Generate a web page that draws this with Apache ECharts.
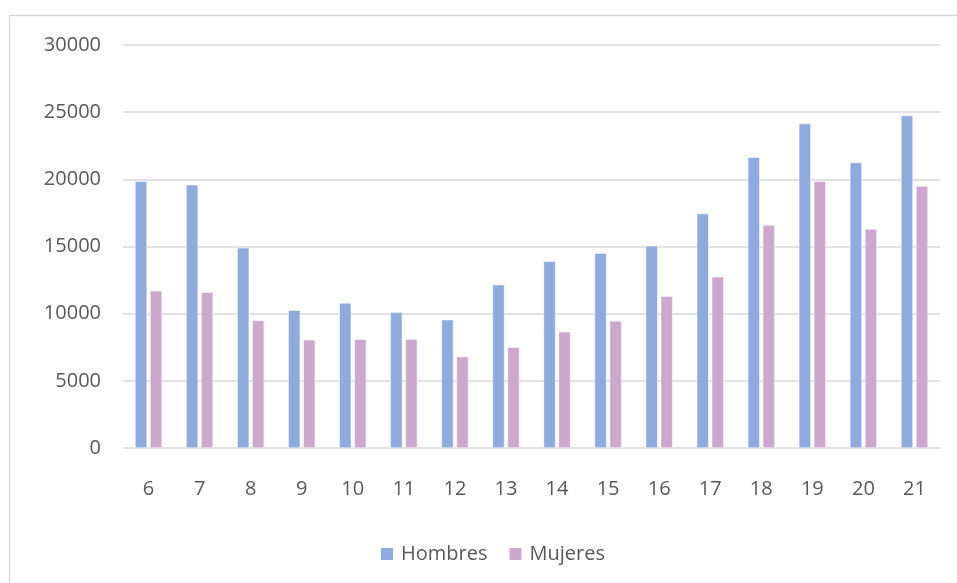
<!DOCTYPE html>
<html><head><meta charset="utf-8">
<script src="https://cdn.jsdelivr.net/npm/echarts@6/dist/echarts.min.js"></script>
<style>html,body{margin:0;padding:0;background:#fff}#c{width:957px;height:583px}</style>
</head><body><div id="c"></div>
<script>
const categories = ['6','7','8','9','10','11','12','13','14','15','16','17','18','19','20','21'];
const hombres = [19850,19600,14900,10250,10800,10100,9550,12150,13900,14500,15050,17450,21650,24150,21250,24750];
const mujeres = [11700,11600,9500,8050,8100,8100,6800,7500,8650,9450,11300,12750,16600,19850,16300,19500];
const yTicks = {min:0, max:30000, interval:5000};

const chart = echarts.init(document.getElementById('c'), null, {renderer:'canvas'});
const font = 'Open Sans';
chart.setOption({
  animation:false,
  graphic:[{type:'rect', shape:{x:9.5,y:15.5,width:980,height:600}, style:{fill:'none', stroke:'#d9d9d9', lineWidth:1.5}}],
  legend:{top:544, left:379, padding:0, itemWidth:14, itemHeight:14, itemGap:20,
    icon:'rect', textStyle:{fontFamily:font, fontSize:20, color:'#595959', padding:[0,0,0,2]},
    data:['Hombres','Mujeres']},
  grid:{left:123, right:17, top:45, bottom:135},
  xAxis:{type:'category', data:categories,
    axisLine:{show:false}, axisTick:{show:false},
    axisLabel:{fontFamily:font, fontSize:20, color:'#595959', margin:31}},
  yAxis:{type:'value', min:yTicks.min, max:yTicks.max, interval:yTicks.interval,
    axisLine:{show:false}, axisTick:{show:false},
    splitLine:{lineStyle:{color:'#d9d9d9', width:1.5}},
    axisLabel:{fontFamily:font, fontSize:20, color:'#595959', margin:22, formatter:v=>String(v)}},
  series:[
    {name:'Hombres', type:'bar', data:hombres, barWidth:12, barGap:'25%',
      itemStyle:{color:'#8faadc', borderColor:'#ffffff', borderWidth:0.5}},
    {name:'Mujeres', type:'bar', data:mujeres, barWidth:12, barGap:'25%',
      itemStyle:{color:'#cca9cc', borderColor:'#ffffff', borderWidth:0.5}}
  ]
});
</script></body></html>
